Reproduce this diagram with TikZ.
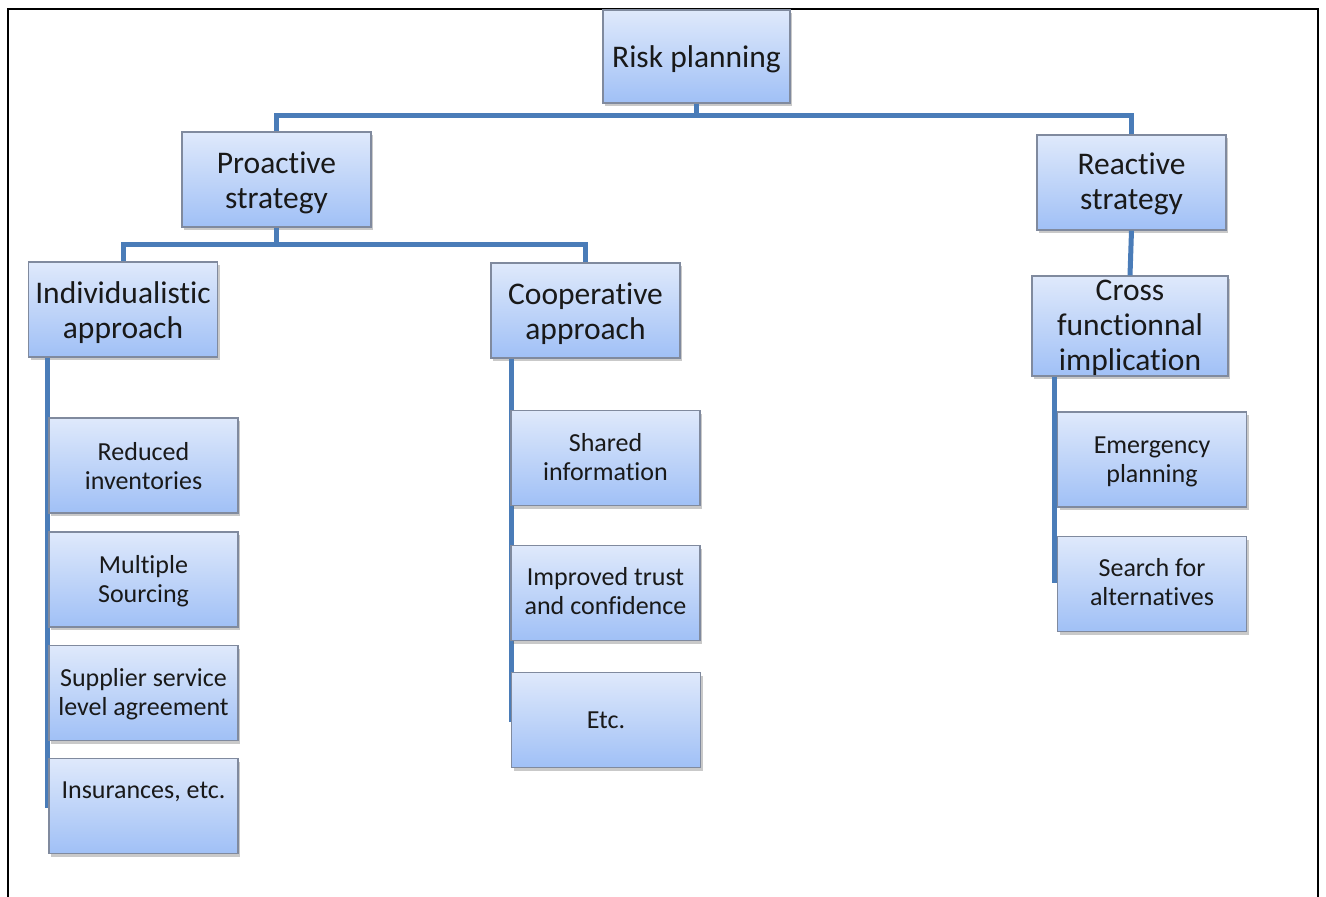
\documentclass[tikz,border=0pt]{standalone}
\usepackage{fontspec}
\setmainfont{Carlito}[Ligatures=NoCommon]
\usetikzlibrary{shadows}
\definecolor{conncol}{RGB}{74,124,184}
\definecolor{boxtop}{RGB}{223,233,251}
\definecolor{boxbot}{RGB}{160,192,246}
\definecolor{boxline}{RGB}{128,138,158}
\definecolor{txt}{RGB}{25,25,25}
\tikzset{
  box/.style={draw=boxline, line width=1.2pt, top color=boxtop, bottom color=boxbot,
    minimum width=189pt, minimum height=95pt, inner sep=0pt,
    drop shadow={shadow xshift=2pt, shadow yshift=-3pt, opacity=0.35, fill=black!60}},
  bigtext/.style={font=\fontsize{31.5}{35}\selectfont, align=center, text=txt, inner sep=0pt},
  smalltext/.style={font=\fontsize{26}{29}\selectfont, align=center, text=txt, inner sep=0pt},
  conn/.style={draw=conncol, line width=5pt},
  frame/.style={draw=black, line width=2.8pt}
}
\begin{document}
\begin{tikzpicture}[x=1pt,y=-1pt]
\useasboundingbox (0,0) rectangle (1326,897);
\fill[white] (0,0) rectangle (1326,897);
\draw[frame] (8,900) -- (8,9) -- (1318,9) -- (1318,900);

\coordinate (j0) at (697,115);
\coordinate (j1) at (276,244);
\coordinate (e1) at (47,808);
\coordinate (e2) at (511,722);
\coordinate (e3) at (1054,583);

% upper boxes
\node[box, minimum width=187pt, minimum height=93pt] (risk) at (696.5,56.5) {};
\node[box] (pro) at (276.5,179.5) {};
\node[box] (rea) at (1131.5,182.5) {};
\node[box] (ind) at (123,309.5) {};
\node[box] (coop) at (585.5,310.5) {};
\node[box, minimum width=196pt, minimum height=100pt] (cross) at (1130,326) {};

% connectors
\draw[conn] (risk.south) |- (j0) -| (pro.north);
\draw[conn] (j0) -| (rea.north);
\draw[conn] (pro.south) |- (j1) -| (ind.north);
\draw[conn] (j1) -| (coop.north);
\draw[conn] (rea.south) -- (cross.north);
\draw[conn] (ind.south -| e1) -- (e1);
\draw[conn] (coop.south -| e2) -- (e2);
\draw[conn] (cross.south -| e3) -- (e3);

% upper texts
\node[bigtext] at ([yshift=-3pt]risk.center) {Risk planning};
\node[bigtext] at ([yshift=-3pt]pro.center) {Proactive\\strategy};
\node[bigtext] at ([yshift=-1pt]rea.center) {Reactive\\strategy};
\node[bigtext] at ([yshift=-3pt]ind.center) {Individualistic\\approach};
\node[bigtext] at ([yshift=-3pt]coop.center) {Cooperative\\approach};
\node[bigtext] at ([yshift=-2pt]cross.center) {Cross\\functionnal\\implication};

% lower boxes
\node[box] (r1) at (143.5,465.5) {};
\node[smalltext] at ([yshift=-1pt]r1.center) {Reduced\\inventories};
\node[box] (r2) at (143.5,579.5) {};
\node[smalltext] at ([yshift=-2pt]r2.center) {Multiple\\Sourcing};
\node[box] (r3) at (143.5,693) {};
\node[smalltext] at ([yshift=-1pt]r3.center) {Supplier service\\level agreement};
\node[box] (r4) at (143.5,806) {};
\node[smalltext] at ([yshift=14pt]r4.center) {Insurances, etc.};

\node[box] (c1) at (605.5,458) {};
\node[smalltext] at ([yshift=1pt]c1.center) {Shared\\information};
\node[box] (c2) at (605.5,593) {};
\node[smalltext] at ([yshift=2pt]c2.center) {Improved trust\\and confidence};
\node[box] (c3) at (606,720) {};
\node[smalltext] at (c3.center) {Etc.};

\node[box] (x1) at (1152,459.5) {};
\node[smalltext] at ([yshift=-2pt]x1.center) {Emergency\\planning};
\node[box] (x2) at (1152,584) {};
\node[smalltext] at ([yshift=2pt]x2.center) {Search for\\alternatives};
\end{tikzpicture}
\end{document}
